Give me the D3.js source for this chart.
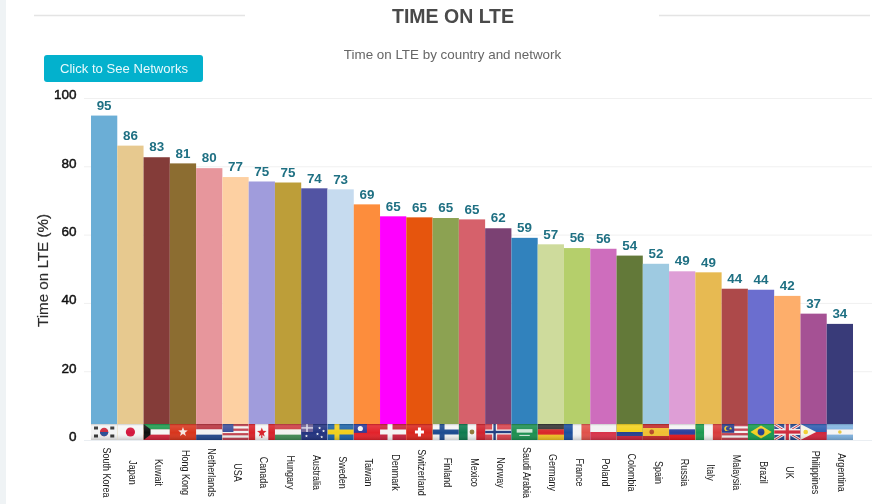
<!DOCTYPE html>
<html><head><meta charset="utf-8">
<script src="https://cdn.jsdelivr.net/npm/d3@7/dist/d3.min.js"></script>
<style>
html,body{margin:0;padding:0;background:#fff;overflow:hidden}
svg{display:block;font-family:"Liberation Sans",Arial,sans-serif;filter:blur(.3px)}
</style></head><body>
<svg id="c" width="896" height="504"></svg>
<script>
const countries=["South Korea","Japan","Kuwait","Hong Kong","Netherlands","USA","Canada","Hungary","Australia","Sweden","Taiwan","Denmark","Switzerland","Finland","Mexico","Norway","Saudi Arabia","Germany","France","Poland","Colombia","Spain","Russia","Italy","Malaysia","Brazil","UK","Philippines","Argentina"];
const values=[95,86.2,82.8,81,79.6,77,75.7,75.4,73.7,73.4,69,65.5,65.2,65,64.6,62,59.2,57.3,56.2,56,54,51.6,49.4,49.1,44.3,44,42.2,37,34];
const labels=[95,86,83,81,80,77,75,75,74,73,69,65,65,65,65,62,59,57,56,56,54,52,49,49,44,44,42,37,34];
const barColors=["#6baed6","#e7c98f","#843c39","#8c6d31","#e7969c","#fdd0a2","#a09cdc","#bd9e39","#5254a3","#c6dbef","#fd8d3c","#ff00ff","#e6550d","#8ca252","#d6616b","#7b4173","#3182bd","#cedb9c","#b5cf6b","#ce6dbd","#637939","#9ecae1","#de9ed6","#e7ba52","#ad494a","#6b6ecf","#fdae6b","#a55194","#393b79"];
const yTicks=[0,20,40,60,80,100];
const flagStripes=[["h","#f4f4f4"],["h","#f6f6f6"],["h","#1f9a4d","#f5f5f5","#d0233a"],["h","#d8341f"],["h","#b8303c","#f2f2f2","#21468b"],["h","#c0404f","#f2f2f2","#c0404f","#f2f2f2","#c0404f","#f2f2f2","#c0404f"],["v","#d8242c","#f6f6f6","#f6f6f6","#d8242c"],["h","#cd3a42","#f2f2f2","#3f8a55"],["h","#22337f"],["h","#1e63a8"],["h","#e3222c"],["h","#c8223c"],["h","#d9251d"],["h","#f5f5f5"],["v","#0f7a4f","#f4f4f4","#d0202f"],["h","#d8424e"],["h","#1b8f50"],["h","#333333","#d9262a","#f0c020"],["v","#1f4f9c","#f4f4f4","#e0514a"],["h","#f2f2f2","#d8304a"],["h","#f2d21e","#f2d21e","#26408f","#c8203a"],["h","#c22a2a","#f0c030","#f0c030","#c22a2a"],["h","#f4f4f4","#2b3f9e","#e3141f"],["v","#1e9a50","#f4f4f4","#d83a3a"],["h","#c0404f","#f2f2f2","#c0404f","#f2f2f2","#c0404f","#f2f2f2","#c0404f"],["h","#159a50"],["h","#27468c"],["h","#2e5cb0","#d0283c"],["h","#7fb2e0","#f5f5f5","#7fb2e0"]];
const W=896,H=504,L=91,R=853,Y0=440,Y100=98.5,flagH=16;
const svg=d3.select("#c");
const x=d3.scaleBand().domain(countries).range([L,R]).padding(0);
const y=d3.scaleLinear().domain([0,100]).range([Y0,Y100]);
const bw=x.bandwidth();

svg.append("rect").attr("width",6).attr("height",H).attr("fill","#eff3f5");
[[34,245],[659,870]].forEach(s=>svg.append("line").attr("x1",s[0]).attr("x2",s[1]).attr("y1",15.5).attr("y2",15.5).attr("stroke","#e4e4e4").attr("stroke-width",1.6));
svg.append("text").attr("x",453).attr("y",22.5).attr("text-anchor","middle").attr("font-size",19.5).attr("font-weight","bold").attr("fill","#4a4a4a").text("TIME ON LTE");
svg.append("text").attr("x",452.5).attr("y",58.5).attr("text-anchor","middle").attr("font-size",13.4).attr("fill","#666").text("Time on LTE by country and network");
svg.append("rect").attr("x",44).attr("y",55).attr("width",159).attr("height",27).attr("rx",3).attr("fill","#03b1cd");
svg.append("text").attr("x",124).attr("y",73).attr("text-anchor","middle").attr("font-size",13.1).attr("fill","#e8fafd").text("Click to See Networks");

// grid
svg.append("g").selectAll("line").data(yTicks.slice(1)).join("line")
 .attr("x1",84).attr("x2",872).attr("y1",d=>y(d)).attr("y2",d=>y(d)).attr("stroke","#f0f0f0");
svg.append("line").attr("x1",84).attr("x2",872).attr("y1",Y0+.5).attr("y2",Y0+.5).attr("stroke","#eaeef2");

// y axis
const ya=svg.append("g").attr("transform","translate(84.5,1)").call(d3.axisLeft(y).tickValues(yTicks).tickSize(0).tickPadding(8));
ya.select(".domain").remove();
ya.selectAll("text").attr("font-family","Liberation Sans").attr("font-size",13.5).attr("fill","#111").attr("stroke","#111").attr("stroke-width",.45).attr("dy","-0.05em");
svg.append("text").attr("transform","translate(48,270.5) rotate(-90)").attr("text-anchor","middle").attr("font-size",15.2).attr("fill","#2c2c2c").attr("stroke","#2c2c2c").attr("stroke-width",.15).text("Time on LTE (%)");

// bars
svg.append("g").selectAll("rect").data(countries).join("rect")
 .attr("x",d=>x(d)).attr("width",bw).attr("y",(d,i)=>y(values[i])).attr("height",(d,i)=>Y0-y(values[i])).attr("fill",(d,i)=>barColors[i]);
svg.append("g").selectAll("text").data(countries).join("text")
 .attr("x",d=>x(d)+bw/2).attr("y",(d,i)=>y(values[i])-5.8).attr("text-anchor","middle").attr("font-size",13.4).attr("font-weight","bold").attr("fill","#1f7083").text((d,i)=>labels[i]);

// flags
const defs=svg.append("defs");
const g0=defs.append("linearGradient").attr("id","gloss").attr("x1",0).attr("x2",0).attr("y1",0).attr("y2",1);
[[0,"#000",.18],[.12,"#fff",.12],[.55,"#fff",0],[1,"#000",.18]].forEach(s=>g0.append("stop").attr("offset",s[0]).attr("stop-color",s[1]).attr("stop-opacity",s[2]));
defs.append("clipPath").attr("id","fc").append("rect").attr("width",bw).attr("height",flagH);
const blur=defs.append("filter").attr("id","soft").attr("x","-5%").attr("y","-5%").attr("width","110%").attr("height","110%");
blur.append("feGaussianBlur").attr("stdDeviation",.45);
const star=(g,cx,cy,r,f)=>{const p=d3.range(10).map(i=>{const a=i*Math.PI/5-Math.PI/2,q=i%2?r*.42:r;return [cx+q*Math.cos(a),cy+q*Math.sin(a)]});g.append("polygon").attr("points",p.join(" ")).attr("fill",f)};
const R_=(g,a,b,c,d,f)=>g.append("rect").attr("x",a).attr("y",b).attr("width",c).attr("height",d).attr("fill",f);
const C_=(g,a,b,r,f)=>g.append("circle").attr("cx",a).attr("cy",b).attr("r",r).attr("fill",f);
const P_=(g,pts,f)=>g.append("polygon").attr("points",pts).attr("fill",f);
const w=bw,h=flagH;
const cross=(g,cx,a,b)=>{R_(g,cx-2.5,0,5,h,a);R_(g,0,h/2-2.5,w,5,a);if(b){R_(g,cx-1.2,0,2.4,h,b);R_(g,0,h/2-1.2,w,2.4,b)}};
const emblem={
 "South Korea":g=>{C_(g,w/2,h/2,4.2,"#cf2a3c");g.append("path").attr("d",`M${w/2-4.2} ${h/2}a4.2 4.2 0 0 0 8.4 0z`).attr("fill","#2a4f96");[[5,4],[w-5,4],[5,h-4],[w-5,h-4]].forEach(p=>R_(g,p[0]-2,p[1]-1.5,4,3,"#333"))},
 "Japan":g=>C_(g,w/2,h/2,4.6,"#d4183c"),
 "Kuwait":g=>P_(g,`0,0 7,${h/3} 7,${2*h/3} 0,${h}`,"#111"),
 "Hong Kong":g=>{star(g,w/2,h/2,5,"#f6e6e0")},
 "USA":g=>R_(g,0,0,w*.42,h*.5,"#3a4f9a"),
 "Canada":g=>{star(g,w/2,h/2+.5,5,"#d8242c");R_(g,w/2-.6,h/2+2,1.2,4,"#d8242c")},
 "Australia":g=>{R_(g,0,0,w*.45,h*.5,"#6d5f96");R_(g,0,3.2,w*.45,1.4,"#d8d8e8");R_(g,5,0,1.6,h*.5,"#d8d8e8");[[w*.7,4],[w*.85,7],[w*.62,10],[w*.78,13],[w*.2,12]].forEach(p=>star(g,p[0],p[1],1.6,"#fff"))},
 "Sweden":g=>cross(g,w*.36,"#f2cf1f"),
 "Taiwan":g=>{R_(g,0,0,w*.5,h*.55,"#2b3a9a");C_(g,w*.25,h*.28,2.6,"#f4f4f4")},
 "Denmark":g=>cross(g,w*.38,"#f4f4f4"),
 "Switzerland":g=>{R_(g,w/2-4.5,h/2-1.5,9,3,"#fff");R_(g,w/2-1.5,h/2-4.5,3,9,"#fff")},
 "Finland":g=>cross(g,w*.36,"#1f4c90"),
 "Mexico":g=>C_(g,w/2,h/2,2.4,"#8f7a3a"),
 "Norway":g=>cross(g,w*.36,"#f2f2f2","#233c80"),
 "Saudi Arabia":g=>{R_(g,w*.2,h*.32,w*.6,h*.22,"#cfe8d6");R_(g,w*.3,h*.68,w*.4,1,"#e6f4ea")},
 "Spain":g=>C_(g,w*.34,h/2,2.4,"#b5492a"),
 "Malaysia":g=>{R_(g,0,0,w*.48,h*.55,"#2a3a8a");C_(g,w*.2,h*.28,2.6,"#f2cf1f");C_(g,w*.25,h*.28,2.2,"#2a3a8a");star(g,w*.34,h*.28,1.7,"#f2cf1f")},
 "Brazil":g=>{P_(g,`${w/2},1.5 ${w-2.5},${h/2} ${w/2},${h-1.5} 2.5,${h/2}`,"#f2d020");C_(g,w/2,h/2,3.4,"#26408f")},
 "UK":g=>{g.append("path").attr("d",`M0 0L${w} ${h}M${w} 0L0 ${h}`).attr("stroke","#eee").attr("stroke-width",3);g.append("path").attr("d",`M0 0L${w} ${h}M${w} 0L0 ${h}`).attr("stroke","#cf2a3c").attr("stroke-width",1);R_(g,w/2-3,0,6,h,"#eee");R_(g,0,h/2-3,w,6,"#eee");R_(g,w/2-1.6,0,3.2,h,"#cf2a3c");R_(g,0,h/2-1.6,w,3.2,"#cf2a3c")},
 "Philippines":g=>{P_(g,`0,0 ${w*.6},${h/2} 0,${h}`,"#f5f3e8");C_(g,w*.2,h/2,2.3,"#f2cf30")},
 "Argentina":g=>C_(g,w/2,h/2,1.8,"#e8c840")
};
const fl=svg.append("g").selectAll("g").data(countries).join("g").attr("transform",d=>`translate(${x(d)},${Y0-flagH})`).attr("clip-path","url(#fc)");
fl.each(function(d,i){
 const s=d3.select(this).append("g").attr("filter","url(#soft)");
 const [dir,...cols]=flagStripes[i];
 const b=d3.scaleBand().domain(d3.range(cols.length)).range([0,dir==="h"?h:w]);
 cols.forEach((c,k)=>dir==="h"?R_(s,0,b(k),w,b.bandwidth()+.3,c):R_(s,b(k),0,b.bandwidth()+.3,h,c));
 if(emblem[d])emblem[d](s);
 d3.select(this).append("rect").attr("width",w).attr("height",h).attr("fill","url(#gloss)");
});

// x axis
const xa=svg.append("g").attr("transform",`translate(2.5,${Y0})`).call(d3.axisBottom(x).tickSize(0));
xa.select(".domain").remove();
xa.selectAll("text").attr("font-family","Liberation Sans").attr("font-size",9).attr("fill","#222").attr("text-anchor","middle").attr("dy",0).attr("y",0)
 .attr("transform","translate(0,32.5) rotate(90) scale(1,1.3)").attr("dominant-baseline","central");
</script></body></html>
